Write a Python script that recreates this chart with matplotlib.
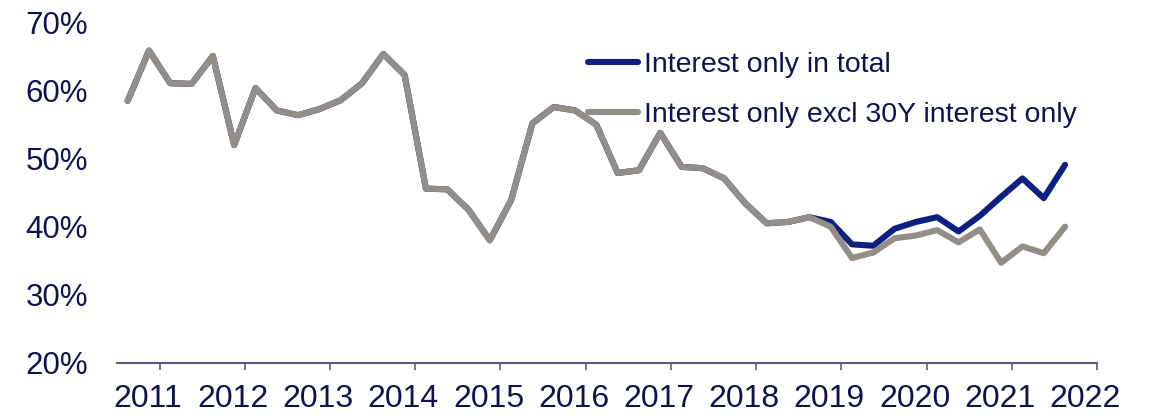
import numpy as np
import matplotlib
matplotlib.use("Agg")
import matplotlib.pyplot as plt
from matplotlib.transforms import ScaledTranslation

# quarterly shares (%), 2010 Q3 .. 2021 Q3
quarters = np.arange(2010.625, 2021.7, 0.25)

io_excl_30y = [
    58.5, 65.9, 61.1, 61.0, 65.1, 52.0, 60.4, 57.1, 56.4, 57.3,
    58.6, 61.1, 65.4, 62.3, 45.6, 45.5, 42.5, 38.0, 43.9, 55.2,
    57.6, 57.1, 55.0, 47.9, 48.3, 53.8, 48.8, 48.6, 47.1, 43.4,
    40.5, 40.7, 41.4, 40.0, 35.4, 36.2, 38.3, 38.7, 39.5, 37.7,
    39.6, 34.7, 37.1, 36.1, 40.0,
]
io_total = io_excl_30y[:33] + [
    40.7, 37.4, 37.2, 39.7, 40.7, 41.4, 39.3, 41.6, 44.4, 47.1,
    44.2, 49.1,
]

year_ticks = list(range(2011, 2023))
y_ticks = [20, 30, 40, 50, 60, 70]

navy_text = "#10124f"
blue = "#0e1f82"
grey = "#938e88"

plt.rcParams["font.family"] = ["Liberation Sans", "DejaVu Sans"]

fig = plt.figure(figsize=(11.65, 4.15), dpi=100)
ax = fig.add_axes([117 / 1165, 1 - 362.7 / 415, 980 / 1165, 340 / 415])

ax.plot(quarters, io_total, color=blue, lw=4.4, solid_capstyle="round",
        solid_joinstyle="round", label="Interest only in total")
ax.plot(quarters, io_excl_30y, color=grey, lw=4.4, solid_capstyle="round",
        solid_joinstyle="round", label="Interest only excl 30Y interest only")

ax.set_xlim(2010.5, 2022.0)
ax.set_ylim(20, 70)
ax.set_xticks(year_ticks)
ax.set_xticklabels([str(y) for y in year_ticks])
ax.set_yticks(y_ticks)
ax.set_yticklabels([f"{v}%" for v in y_ticks])

for side in ["left", "right", "top"]:
    ax.spines[side].set_visible(False)
ax.spines["bottom"].set_color("#5b5b7e")
ax.spines["bottom"].set_linewidth(1.5)

ax.tick_params(axis="x", length=5, width=1.2, color="#5b5b7e",
               labelsize=23, labelcolor=navy_text, pad=10)
ax.tick_params(axis="y", length=0, labelsize=22.5, labelcolor=navy_text, pad=21)

# year labels sit a little left of their ticks
shift = ScaledTranslation(-12 / 100, 0, fig.dpi_scale_trans)
for lbl in ax.get_xticklabels():
    lbl.set_transform(lbl.get_transform() + shift)

leg = ax.legend(loc="upper left", bbox_to_anchor=(588 / 1165, 1 - 52 / 415),
                bbox_transform=fig.transFigure, frameon=False, fontsize=20.5,
                handlelength=1.75, handletextpad=0.2, labelspacing=0.85,
                borderaxespad=0, borderpad=0)
for txt in leg.get_texts():
    txt.set_color(navy_text)

fig.savefig("out.png", dpi=100)
